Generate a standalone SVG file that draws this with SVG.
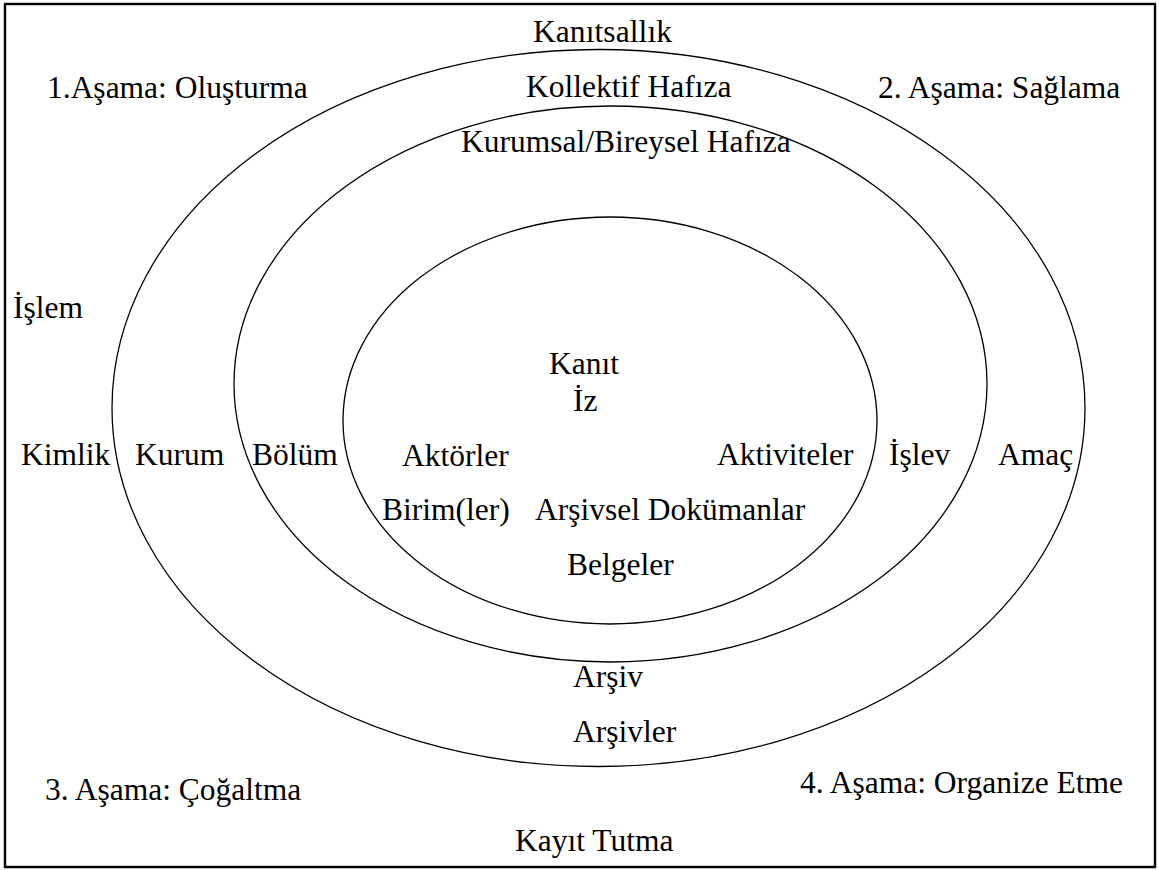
<svg xmlns="http://www.w3.org/2000/svg" width="1159" height="870" viewBox="0 0 1159 870">
<style>
text{font-family:"Liberation Serif","Times New Roman",serif;font-size:31.5px;fill:#000}
.ring{fill:none;stroke:#000;stroke-width:1.3}
</style>
<rect x="0" y="0" width="1159" height="870" fill="#fff"/>
<rect id="frame" x="5" y="4" width="1150" height="863" fill="none" stroke="#000" stroke-width="2.4"/>
<g id="rings">
<ellipse id="outer" class="ring" cx="598.5" cy="408" rx="486.5" ry="358.5"/>
<ellipse id="middle" class="ring" cx="610.5" cy="384" rx="376.5" ry="278"/>
<ellipse id="inner" class="ring" cx="610" cy="420.5" rx="267" ry="203.5"/>
</g>
<g id="labels">
<text x="533" y="42" textLength="139" lengthAdjust="spacing">Kanıtsallık</text>
<text x="47" y="98">1.Aşama: Oluşturma</text>
<text x="526" y="97">Kollektif Hafıza</text>
<text x="878" y="98">2. Aşama: Sağlama</text>
<text x="461" y="152">Kurumsal/Bireysel Hafıza</text>
<text x="13" y="318">İşlem</text>
<text x="549" y="374">Kanıt</text>
<text x="573" y="411">İz</text>
<text x="21" y="465">Kimlik</text>
<text x="135" y="465">Kurum</text>
<text x="252" y="465">Bölüm</text>
<text x="402" y="466">Aktörler</text>
<text x="717" y="465">Aktiviteler</text>
<text x="889" y="465">İşlev</text>
<text x="998" y="465">Amaç</text>
<text x="382" y="520">Birim(ler)</text>
<text x="535" y="520">Arşivsel Dokümanlar</text>
<text x="567" y="575">Belgeler</text>
<text x="573" y="687">Arşiv</text>
<text x="573" y="742">Arşivler</text>
<text x="45" y="800">3. Aşama: Çoğaltma</text>
<text x="800" y="793">4. Aşama: Organize Etme</text>
<text x="515" y="851">Kayıt Tutma</text>
</g>
</svg>
